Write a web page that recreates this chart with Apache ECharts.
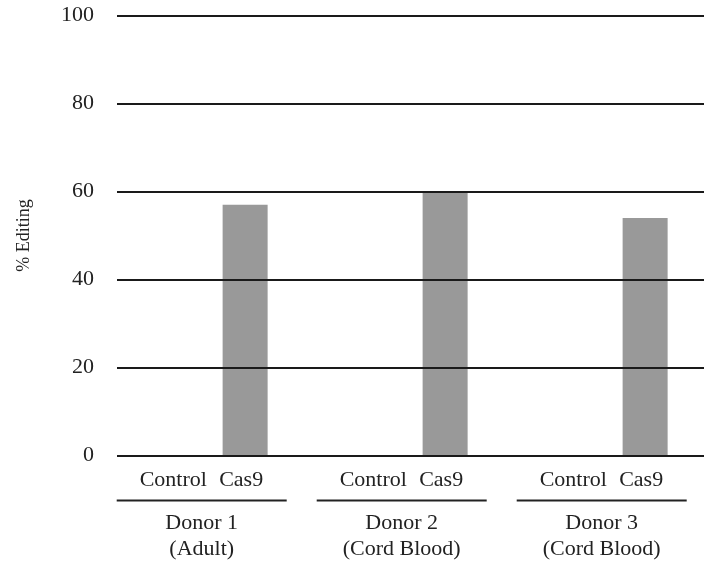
<!DOCTYPE html>
<html>
<head>
<meta charset="utf-8">
<script src="https://cdn.jsdelivr.net/npm/echarts@6/dist/echarts.min.js"></script>
<style>html,body{margin:0;padding:0;background:#fff}#c{width:704px;height:563px}</style>
</head>
<body>
<div id="c"></div>
<script>
var donors = ['Donor 1', 'Donor 2', 'Donor 3'];
var donorTypes = ['(Adult)', '(Cord Blood)', '(Cord Blood)'];
var conditions = ['Control', 'Cas9'];
var controlValues = [0, 0, 0];
var cas9Values = [57, 60, 54];
var yTicks = [0, 20, 40, 60, 80, 100];

var FONT = 'Liberation Serif';
var TXT = '#222';

var chart = echarts.init(document.getElementById('c'), null, {renderer: 'canvas'});
chart.setOption({
  animation: false,
  backgroundColor: '#fff',
  grid: [
    {left: 117, right: -20, top: 15.5, bottom: 107.5},
    {left: 101.7, width: 600, top: 15.5, bottom: 107.5}
  ],
  xAxis: [
    {gridIndex: 0, type: 'value', show: false, min: 0, max: 1},
    {
      gridIndex: 1, type: 'category', data: donors,
      axisLine: {show: false}, axisTick: {show: false}, splitLine: {show: false},
      axisLabel: {
        margin: 44, interval: 0,
        formatter: function (v, i) { return '{l|}\n{a|' + v + '}\n{b|' + donorTypes[i] + '}'; },
        rich: {
          l: {width: 170, height: 2, lineHeight: 2, backgroundColor: '#222'},
          a: {fontFamily: FONT, fontSize: 22, color: TXT, lineHeight: 43},
          b: {fontFamily: FONT, fontSize: 22, color: TXT, lineHeight: 10}
        }
      }
    }
  ],
  yAxis: [
    {
      gridIndex: 0, type: 'value', min: yTicks[0], max: yTicks[yTicks.length - 1], interval: 20, z: 5,
      axisLine: {show: false}, axisTick: {show: false},
      axisLabel: {margin: 23, fontFamily: FONT, fontSize: 22, color: TXT},
      splitLine: {show: true, lineStyle: {color: '#1a1a1a', width: 2}},
      name: '% Editing', nameLocation: 'middle', nameRotate: 90, nameGap: 84,
      nameTextStyle: {fontFamily: FONT, fontSize: 18, color: TXT}
    },
    {gridIndex: 1, type: 'value', min: 0, max: 100, show: false}
  ],
  series: [
    {
      name: conditions[0], type: 'bar', xAxisIndex: 1, yAxisIndex: 1,
      data: controlValues, barWidth: 45, barGap: '93%',
      itemStyle: {color: '#999999'},
      label: {show: true, position: 'bottom', distance: 14, offset: [15, 0],
        formatter: conditions[0], fontFamily: FONT, fontSize: 22, color: TXT}
    },
    {
      name: conditions[1], type: 'bar', xAxisIndex: 1, yAxisIndex: 1,
      data: cas9Values, barWidth: 45, barGap: '93%',
      itemStyle: {color: '#999999'},
      label: {show: true, position: 'bottom', distance: 14, offset: [-4, 0],
        formatter: conditions[1], fontFamily: FONT, fontSize: 22, color: TXT}
    }
  ]
});
</script>
</body>
</html>
